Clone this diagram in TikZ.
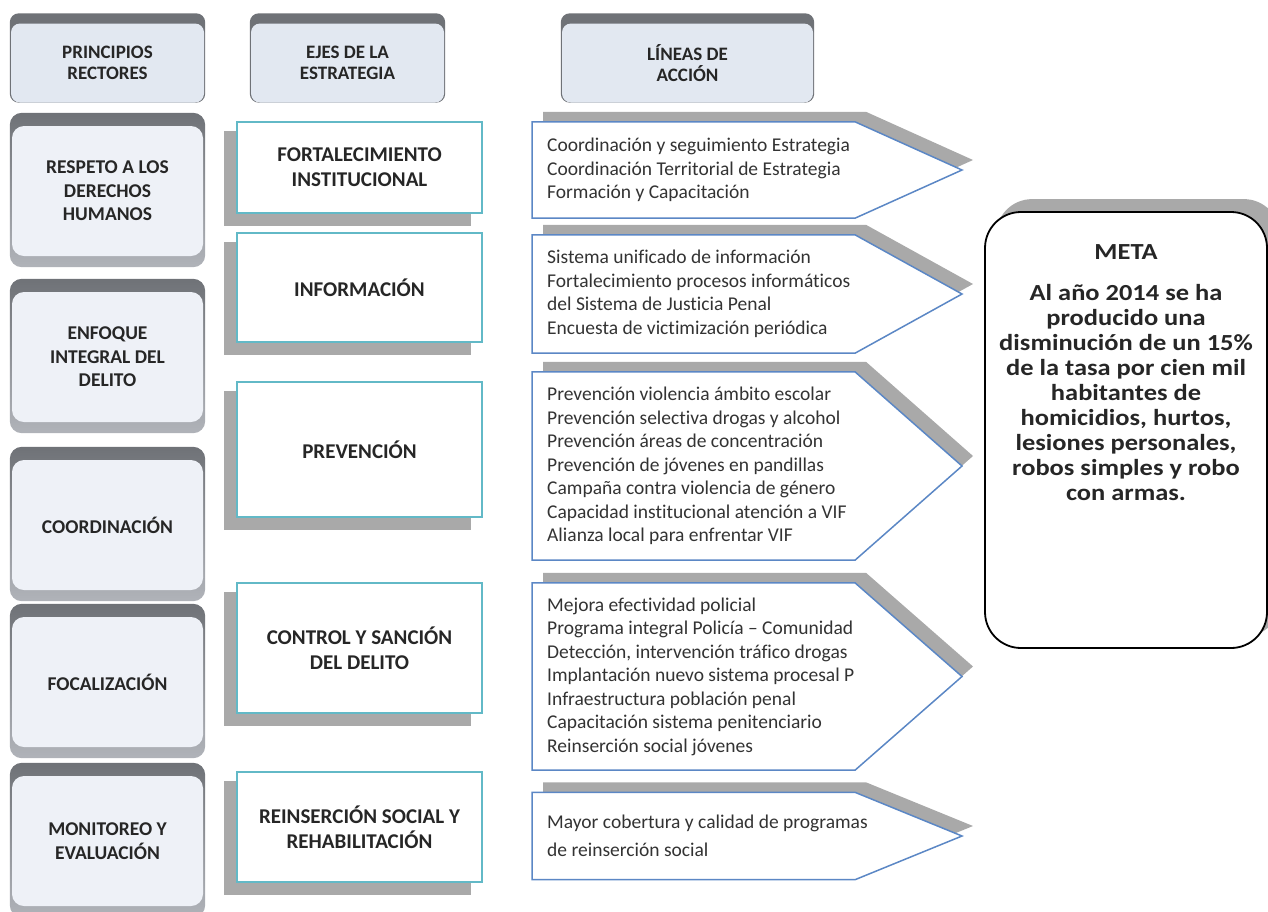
\documentclass[tikz,border=0pt]{standalone}
\usepackage{fontspec}
\setmainfont[Ligatures=NoCommon]{Carlito}
\newfontfamily\metafont[FakeStretch=1.15,Ligatures=NoCommon]{Carlito}
\usepackage{tikz}
\usetikzlibrary{positioning, calc, backgrounds}
\definecolor{hdrfill}{HTML}{E2E8F1}
\definecolor{prinfill}{HTML}{EEF1F7}
\definecolor{shtop}{HTML}{6F7277}
\definecolor{shbot}{HTML}{B0B3B9}
\definecolor{ejeline}{HTML}{62B9C7}
\definecolor{lineablue}{HTML}{5B87C5}
\definecolor{shadegray}{HTML}{A9A9A9}
\definecolor{txtdark}{HTML}{262626}
\definecolor{txtmid}{HTML}{333333}

\begin{document}
\begin{tikzpicture}[
  x=1pt, y=-1pt,
  hdr/.style={fill=hdrfill, rounded corners=9pt, minimum width=193pt, minimum height=79pt,
              align=center, font=\fontsize{19}{21.5}\selectfont\bfseries, text=txtdark},
  hdrshell/.style={fill=shtop, rounded corners=9pt},
  prin/.style={fill=prinfill, rounded corners=12pt, minimum width=191pt, minimum height=130pt,
               align=center, font=\fontsize{19.5}{23.5}\selectfont\bfseries, text=txtdark},
  prinshell/.style={top color=shtop, bottom color=shbot, rounded corners=12pt},
  eje/.style={draw=ejeline, line width=2pt, fill=white, minimum width=245pt,
              align=center, font=\fontsize{21}{25}\selectfont\bfseries, text=txtdark},
  linea/.style={anchor=west, inner xsep=15pt, align=left,
                font=\fontsize{19.5}{23.5}\selectfont, text=txtmid},
  arrowbox/.style={draw=lineablue, line width=1.5pt, fill=white},
  metabox/.style={draw=black, line width=1.8pt, fill=white, rounded corners=36pt,
                  minimum width=282pt, minimum height=436pt},
  metatxt/.style={anchor=north, inner sep=0pt, align=center,
                  font=\metafont\fontsize{23}{25}\selectfont\bfseries, text=txtdark},
]
  \useasboundingbox (0,0) rectangle (1268,911);

  % column headers
  \node[hdr] (h1) at (107.5,63) {PRINCIPIOS\\RECTORES};
  \node[hdr] (h2) at (347.5,63) {EJES DE LA\\ESTRATEGIA};
  \node[hdr, minimum width=251pt] (h3) at (687.5,63) {LÍNEAS DE\\ACCIÓN};

  % principios rectores
  \node[prin] (p1) at (107.5,191) {RESPETO A LOS\\DERECHOS\\HUMANOS};
  \node[prin] (p2) at (107.5,357) {ENFOQUE\\INTEGRAL DEL\\DELITO};
  \node[prin] (p3) at (107.5,525) {COORDINACIÓN};
  \node[prin] (p4) at (107.5,682) {FOCALIZACIÓN};
  \node[prin] (p5) at (107.5,841) {MONITOREO Y\\EVALUACIÓN};

  % ejes de la estrategia
  \node[eje, minimum height=91pt] (e1) at (359.5,167.5) {FORTALECIMIENTO\\INSTITUCIONAL};
  \node[eje, minimum height=109pt] (e2) at (359.5,287.5) {INFORMACIÓN};
  \node[eje, minimum height=135pt] (e3) at (359.5,449.5) {PREVENCIÓN};
  \node[eje, minimum height=130pt] (e4) at (359.5,648) {CONTROL Y SANCIÓN\\DEL DELITO};
  \node[eje, minimum height=110pt] (e5) at (359.5,827) {REINSERCIÓN SOCIAL Y\\REHABILITACIÓN};

  % lineas de accion
  \coordinate (bend) at (855,0);
  \coordinate (tip) at (962,0);
  \node[linea, minimum height=96pt] (l1) at (532,170)
    {Coordinación y seguimiento Estrategia\\Coordinación Territorial de Estrategia\\Formación y Capacitación};
  \node[linea, minimum height=118pt] (l2) at (532,294)
    {Sistema unificado de información\\Fortalecimiento procesos informáticos\\del Sistema de Justicia Penal\\Encuesta de victimización periódica};
  \node[linea, minimum height=188pt] (l3) at (532,466)
    {Prevención violencia ámbito escolar\\Prevención selectiva drogas y alcohol\\Prevención áreas de concentración\\Prevención de jóvenes en pandillas\\Campaña contra violencia de género\\Capacidad institucional atención a VIF\\Alianza local para enfrentar VIF};
  \node[linea, minimum height=187pt] (l4) at (532,676.5)
    {Mejora efectividad policial\\Programa integral Policía – Comunidad\\Detección, intervención tráfico drogas\\Implantación nuevo sistema procesal P\\Infraestructura población penal\\Capacitación sistema penitenciario\\Reinserción social jóvenes};
  \node[linea, minimum height=87pt] (l5) at (532,836)
    {Mayor cobertura y calidad de programas\\[4pt]de reinserción social};

  % meta
  \node[metabox] (meta) at (1126,430) {};
  \node[metatxt] (goal) at (1126,244)
    {META\\[16pt]Al año 2014 se ha\\producido una\\disminución de un 15\%\\de la tasa por cien mil\\habitantes de\\homicidios, hurtos,\\lesiones personales,\\robos simples y robo\\con armas.};

  \begin{scope}[on background layer]
    \foreach \n in {h1,h2,h3}
      \path[hdrshell] ($(\n.north west)+(-1,-10)$) rectangle ($(\n.south east)+(1,0)$);
    \foreach \n in {p1,p2,p3,p4,p5}
      \path[prinshell] ($(\n.north west)+(-2,-13)$) rectangle ($(\n.south east)+(2,11)$);
    \foreach \n in {e1,e2,e3,e4,e5}
      \fill[shadegray] ($(\n.north west)+(-12,10)$) rectangle ($(\n.south east)+(-12,12)$);
    \foreach \n in {l1,l2,l3,l4,l5} {
      \fill[shadegray] ($(\n.north west)+(11,-10)$) -- ($(\n.north west -| bend)+(11,-10)$)
        -- ($(\n.west -| tip)+(11,-10)$) -- ($(\n.south west -| bend)+(11,-10)$)
        -- ($(\n.south west)+(11,-10)$) -- cycle;
      \draw[arrowbox] (\n.north west) -- (\n.north west -| bend) -- (\n.west -| tip)
        -- (\n.south west -| bend) -- (\n.south west) -- cycle;
    }
    \fill[shadegray, rounded corners=36pt] ($(meta.north west)+(12,-12)$) rectangle ($(meta.south east)+(12,-12)$);
  \end{scope}
\end{tikzpicture}
\end{document}
